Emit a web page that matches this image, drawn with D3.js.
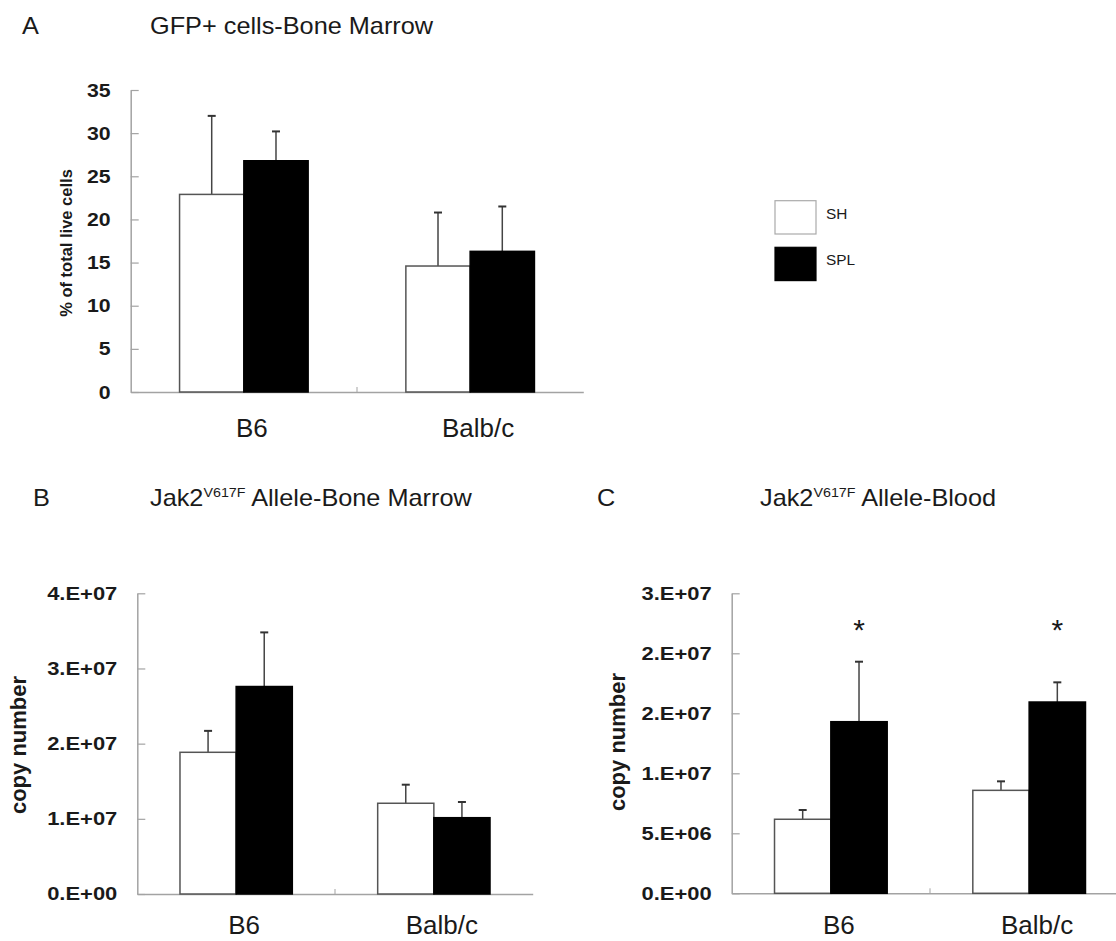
<!DOCTYPE html>
<html>
<head>
<meta charset="utf-8">
<script src="https://cdn.jsdelivr.net/npm/d3@7"></script>
<style>
  body { margin: 0; background: #fff; }
  svg { display: block; font-family: "Liberation Sans", Arial, sans-serif; }
</style>
</head>
<body>
<div id="chart"></div>
<script>
// categories and series
const categories = ['B6', 'Balb/c'];
const seriesNames = ['SH', 'SPL'];
const seriesFill = ['#ffffff', '#000000'];

// Panel A - GFP+ cells, % of total live cells
const gfpSH = [22.9, 14.6];
const gfpSHErr = [9.1, 6.2];
const gfpSPL = [26.8, 16.3];
const gfpSPLErr = [3.4, 5.2];
const gfpTicks = [0, 5, 10, 15, 20, 25, 30, 35];
const gfpTickLabels = ['0', '5', '10', '15', '20', '25', '30', '35'];

// Panel B - Jak2 allele, bone marrow (copy number)
const bmSH = [1.885e7, 1.207e7];
const bmSHErr = [0.285e7, 0.247e7];
const bmSPL = [2.76e7, 1.015e7];
const bmSPLErr = [0.72e7, 0.209e7];
const bmTicks = [0, 1e7, 2e7, 3e7, 4e7];
const bmTickLabels = ['0.E+00', '1.E+07', '2.E+07', '3.E+07', '4.E+07'];

// Panel C - Jak2 allele, blood (copy number)
const bloodSH = [6.17e6, 8.58e6];
const bloodSHErr = [0.77e6, 0.75e6];
const bloodSPL = [1.43e7, 1.594e7];
const bloodSPLErr = [0.50e7, 0.164e7];
const bloodTicks = [0, 5e6, 1e7, 1.5e7, 2e7, 2.5e7];
const bloodTickLabels = ['0.E+00', '5.E+06', '1.E+07', '2.E+07', '2.E+07', '3.E+07'];
const bloodSignificant = [true, true]; // '*' over SPL bar
const starLevel = 2.25e7;

const svg = d3.select('#chart').append('svg')
    .attr('width', 1116)
    .attr('height', 941);

const textColor = '#1a1a1a';
const axisColor = '#a3a3a3';

// text that is stretched horizontally like the original figure
function stretchText(sel, x, y, sx, str, size, weight) {
    return sel.append('text')
        .attr('transform', `translate(${x},${y}) scale(${sx},1)`)
        .attr('font-size', size)
        .attr('font-weight', weight || 'normal')
        .attr('fill', textColor)
        .text(str);
}

// Panel titles
function panelTitle(letter, lx, tx, y, main, sup, rest) {
    stretchText(svg, lx, y, 1.1, letter, 23);
    const t = svg.append('text')
        .attr('transform', `translate(${tx},${y}) scale(1.1,1)`)
        .attr('font-size', 23)
        .attr('fill', textColor);
    t.append('tspan').text(main);
    if (sup) {
        t.append('tspan').attr('font-size', 13).attr('dy', -9).text(sup);
        t.append('tspan').attr('dy', 9).text(rest);
    }
}

panelTitle('A', 22, 150, 34, 'GFP+ cells-Bone Marrow');
panelTitle('B', 33, 150, 506, 'Jak2', 'V617F', ' Allele-Bone Marrow');
panelTitle('C', 597, 760, 506, 'Jak2', 'V617F', ' Allele-Blood');

// one grouped bar panel
function drawPanel(opt) {
    const g = svg.append('g');

    const y = d3.scaleLinear()
        .domain([0, opt.ticks[opt.ticks.length - 1]])
        .range([opt.y0, opt.yTop]);

    const x = d3.scaleBand()
        .domain(categories)
        .range([opt.x0, opt.x1]);

    const xs = d3.scaleBand()
        .domain(seriesNames)
        .range([0, x.bandwidth()])
        .paddingOuter(0.76);

    // Y axis
    const yAxis = g.append('g')
        .attr('transform', `translate(${opt.x0},0)`)
        .call(d3.axisLeft(y)
            .tickValues(opt.ticks)
            .tickFormat((d, i) => opt.labels[i])
            .tickSizeInner(-8)
            .tickSizeOuter(0)
            .tickPadding(20));
    yAxis.select('.domain').attr('stroke', axisColor).attr('stroke-width', 1.5);
    yAxis.selectAll('.tick line').attr('stroke', axisColor).attr('stroke-width', 1.2);
    yAxis.selectAll('.tick text')
        .attr('x', null)
        .attr('transform', `translate(-20,0) scale(${opt.tickScale},1)`)
        .attr('font-size', opt.tickSize)
        .attr('font-weight', 'bold')
        .attr('font-family', '"Liberation Sans", Arial, sans-serif')
        .attr('fill', textColor);

    // X axis
    const xAxis = g.append('g')
        .attr('transform', `translate(0,${opt.y0})`)
        .call(d3.axisBottom(x).tickSize(0).tickSizeOuter(0).tickFormat(''));
    xAxis.select('.domain').attr('stroke', axisColor).attr('stroke-width', 1.5);
    // small tick at the boundary between categories
    g.selectAll('.cat-sep')
        .data(categories.slice(1))
        .enter().append('line')
        .attr('x1', d => x(d)).attr('x2', d => x(d))
        .attr('y1', opt.y0).attr('y2', opt.y0 - 5)
        .attr('stroke', axisColor).attr('stroke-width', 1);

    // category labels
    g.selectAll('.cat-label')
        .data(categories)
        .enter().append('text')
        .attr('x', d => x(d) + x.bandwidth() / 2 + 8)
        .attr('y', opt.labelY)
        .attr('text-anchor', 'middle')
        .attr('font-size', opt.labelSize)
        .attr('fill', textColor)
        .text(d => d);

    // bars + error bars
    opt.series.forEach((s, si) => {
        const name = seriesNames[si];
        const rows = categories.map((c, i) => ({ c, v: s.values[i], e: s.errors[i] }));
        const cx = d => x(d.c) + xs(name) + xs.bandwidth() / 2;

        g.selectAll(null)
            .data(rows)
            .enter().append('line')
            .attr('x1', cx).attr('x2', cx)
            .attr('y1', d => y(d.v)).attr('y2', d => y(d.v + d.e))
            .attr('stroke', '#444').attr('stroke-width', 1.5);
        g.selectAll(null)
            .data(rows)
            .enter().append('line')
            .attr('x1', d => cx(d) - 4).attr('x2', d => cx(d) + 4)
            .attr('y1', d => y(d.v + d.e)).attr('y2', d => y(d.v + d.e))
            .attr('stroke', '#333').attr('stroke-width', 2);

        g.selectAll(null)
            .data(rows)
            .enter().append('rect')
            .attr('x', d => x(d.c) + xs(name))
            .attr('y', d => y(d.v))
            .attr('width', xs.bandwidth())
            .attr('height', d => opt.y0 - y(d.v))
            .attr('fill', seriesFill[si])
            .attr('stroke', si === 0 ? '#555' : '#000')
            .attr('stroke-width', 1.5);
    });

    // significance stars
    if (opt.stars) {
        g.selectAll('.star')
            .data(categories.filter((c, i) => opt.stars[i]))
            .enter().append('text')
            .attr('x', d => x(d) + xs('SPL') + xs.bandwidth() / 2)
            .attr('y', y(starLevel) + 17)
            .attr('text-anchor', 'middle')
            .attr('font-size', 30)
            .attr('fill', textColor)
            .text('*');
    }

    // y axis title
    g.append('text')
        .attr('transform', `translate(${opt.yTitleX},${opt.yTitleY}) rotate(-90)`)
        .attr('text-anchor', 'middle')
        .attr('dominant-baseline', 'central')
        .attr('font-size', opt.yTitleSize)
        .attr('font-weight', 'bold')
        .attr('fill', textColor)
        .text(opt.yTitle);
}

drawPanel({
    x0: 130.7, x1: 583.3, y0: 392, yTop: 90,
    ticks: gfpTicks, labels: gfpTickLabels, tickSize: 19, tickScale: 1.12,
    series: [{ values: gfpSH, errors: gfpSHErr }, { values: gfpSPL, errors: gfpSPLErr }],
    labelY: 437, labelSize: 26,
    yTitle: '% of total live cells', yTitleX: 66, yTitleY: 243, yTitleSize: 16.5
});

drawPanel({
    x0: 137.3, x1: 532.7, y0: 894, yTop: 593.3,
    ticks: bmTicks, labels: bmTickLabels, tickSize: 18, tickScale: 1.22,
    series: [{ values: bmSH, errors: bmSHErr }, { values: bmSPL, errors: bmSPLErr }],
    labelY: 934, labelSize: 26,
    yTitle: 'copy number', yTitleX: 18, yTitleY: 745, yTitleSize: 22
});

drawPanel({
    x0: 731.7, x1: 1128.3, y0: 893.3, yTop: 593.3,
    ticks: bloodTicks, labels: bloodTickLabels, tickSize: 18, tickScale: 1.22,
    series: [{ values: bloodSH, errors: bloodSHErr }, { values: bloodSPL, errors: bloodSPLErr }],
    stars: bloodSignificant,
    labelY: 934, labelSize: 26,
    yTitle: 'copy number', yTitleX: 617, yTitleY: 742, yTitleSize: 22
});

// Legend
const legend = svg.append('g');
seriesNames.forEach((name, i) => {
    legend.append('rect')
        .attr('x', 775).attr('y', 200.7 + i * 46.6)
        .attr('width', 41).attr('height', 33.3)
        .attr('fill', seriesFill[i])
        .attr('stroke', i === 0 ? '#aaa' : '#000')
        .attr('stroke-width', 1.2);
    stretchText(legend, 826, 218.5 + i * 46.6, 1.1, name, 14);
});
</script>
</body>
</html>
